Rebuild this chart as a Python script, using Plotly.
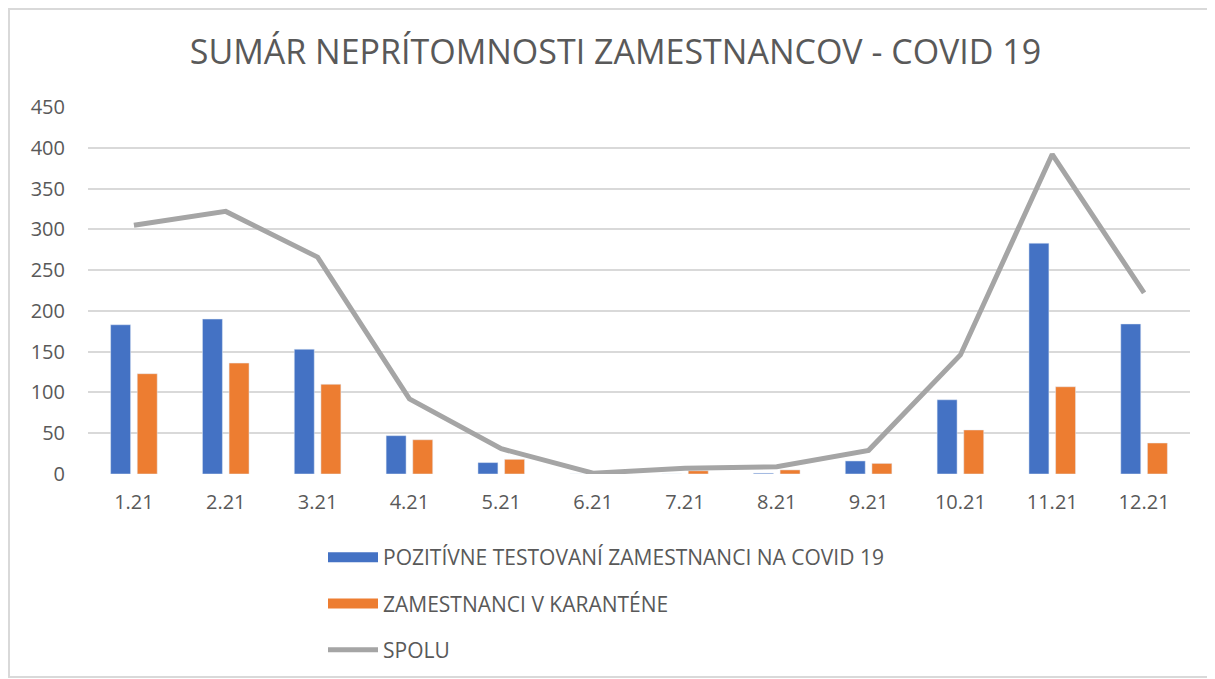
import plotly.graph_objects as go

months = ["1.21", "2.21", "3.21", "4.21", "5.21", "6.21", "7.21", "8.21", "9.21", "10.21", "11.21", "12.21"]
positive = [183, 190, 153, 47, 14, 0, 0, 1, 16, 91, 283, 184]
quarantine = [123, 136, 110, 42, 18, 0, 4, 5, 13, 54, 107, 38]
total = [305, 322, 266, 92, 31, 1, 7, 9, 29, 146, 392, 222]

names = ["POZITÍVNE TESTOVANÍ ZAMESTNANCI NA COVID 19", "ZAMESTNANCI V KARANTÉNE", "SPOLU"]
colors = ["#4472c4", "#ed7d31", "#a5a5a5"]

OFF = 8  # page body margin
W, H = 1215, 679
L, R, T, B = 88 - OFF, 1190 - OFF, 107 - OFF, 474 - OFF

def px(x):
    return (x - OFF - L) / (R - L)

def py(y):
    return (B - (y - OFF)) / (B - T)

font = "'Open Sans', sans-serif"
grey = "#595959"

fig = go.Figure()
fig.add_trace(go.Bar(x=months, y=positive, name=names[0], marker_color=colors[0], showlegend=False))
fig.add_trace(go.Bar(x=months, y=quarantine, name=names[1], marker_color=colors[1], showlegend=False))
fig.add_trace(go.Scatter(x=months, y=total, name=names[2], mode="lines",
                         line=dict(color=colors[2], width=5), showlegend=False))
# legend entries
for i, (n, c) in enumerate(zip(names, colors)):
    fig.add_trace(go.Scatter(x=[None], y=[None], name=n, mode="lines",
                             line=dict(color=c, width=11 if i < 2 else 5),
                             legendgroup=str(i), showlegend=True))

fig.update_layout(
    width=W, height=H,
    margin=dict(l=L, r=W - R, t=T, b=H - B, autoexpand=False),
    paper_bgcolor="white", plot_bgcolor="white",
    barmode="group", bargap=0.42, bargroupgap=0.25,
    title=dict(text="SUMÁR NEPRÍTOMNOSTI ZAMESTNANCOV - COVID 19",
               x=0.5, xref="container", xanchor="center",
               y=1 - (52 - OFF) / H, yanchor="middle",
               font=dict(family=font, size=34, color=grey)),
    font=dict(family=font, size=20, color=grey),
    xaxis=dict(showgrid=False, showline=False, ticks="", ticklabelstandoff=14,
               tickfont=dict(size=20, color=grey)),
    yaxis=dict(range=[0, 450], dtick=50, showgrid=True, gridcolor="#d9d9d9", gridwidth=2,
               zeroline=False, showline=False, ticks="", ticklabelstandoff=22,
               tickfont=dict(size=20, color=grey)),
    showlegend=True,
    legend=dict(orientation="v", x=px(323), xanchor="left", y=py(537), yanchor="top",
                font=dict(size=21, color=grey), tracegroupgap=16, traceorder="grouped",
                itemwidth=50),
    shapes=[dict(type="rect", xref="paper", yref="paper",
                 x0=px(9), x1=px(1209), y0=py(677), y1=py(9),
                 line=dict(color="#d9d9d9", width=2), layer="below")],
)

fig.write_html("out.html")
